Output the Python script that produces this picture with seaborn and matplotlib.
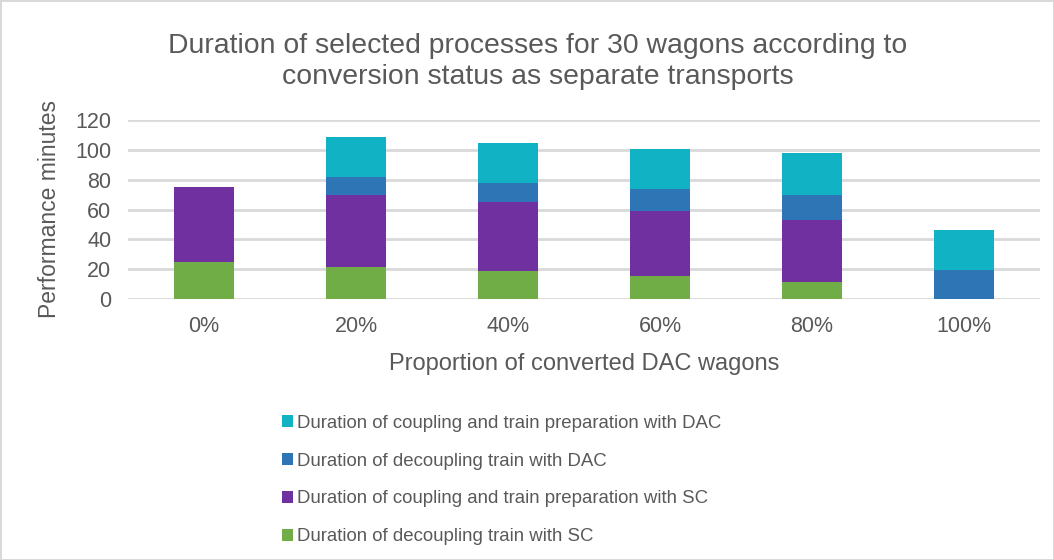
"""
Stacked bar chart: duration of selected processes for 30 wagons by DAC conversion status.
"""
import matplotlib
matplotlib.use("Agg")
import matplotlib.pyplot as plt
import numpy as np
import pandas as pd
import seaborn as sns
from matplotlib.patches import Patch

# ---------------------------------------------------------------------------
CATEGORIES = ["0%", "20%", "40%", "60%", "80%", "100%"]

SC_DECOUPLING  = [24.8, 21.6, 18.5, 15.6, 11.6, 0.0]
SC_COUPLING    = [50.6, 48.4, 46.2, 43.1, 41.5, 0.0]
DAC_DECOUPLING = [0.0, 11.6, 13.2, 15.1, 16.9, 19.4]
DAC_COUPLING   = [0.0, 26.8, 26.7, 27.0, 27.7, 26.8]

SERIES_NAMES = [
    "Duration of decoupling train with SC",
    "Duration of coupling and train preparation with SC",
    "Duration of decoupling train with DAC",
    "Duration of coupling and train preparation with DAC",
]
COLORS = ["#70AD47", "#7030A0", "#2E75B6", "#12B2C5"]
TEXT   = "#595959"
GRID   = "#D9D9D9"

sns.set_theme(style="white")
plt.rcParams["font.family"] = ["Liberation Sans", "DejaVu Sans"]

# cumulative tops, drawn back-to-front so lower segments sit over taller bars
stack = np.array([SC_DECOUPLING, SC_COUPLING, DAC_DECOUPLING, DAC_COUPLING])
tops  = stack.cumsum(axis=0)

fig = plt.figure(figsize=(10.54, 5.6), dpi=100, edgecolor=GRID, linewidth=2)
ax = fig.add_axes([128 / 1054, 1 - 299 / 560, (1040 - 128) / 1054, (299 - 120) / 560])

for i in reversed(range(len(SERIES_NAMES))):
    df = pd.DataFrame({"cat": CATEGORIES, "val": tops[i]})
    sns.barplot(data=df, x="cat", y="val", color=COLORS[i], saturation=1,
                width=0.4, ax=ax, zorder=3, linewidth=0)

ax.set_ylim(0, 120)
ax.set_xlim(-0.5, 5.5)
ax.set_yticks(range(0, 121, 20))
ax.yaxis.grid(True, color=GRID, linewidth=2, zorder=0)
ax.set_axisbelow(True)
for s in ax.spines.values():
    s.set_visible(False)
ax.tick_params(axis="both", length=0, labelsize=15.5, labelcolor=TEXT)
ax.tick_params(axis="y", pad=12)
ax.tick_params(axis="x", pad=12)
ax.set_xlabel("Proportion of converted DAC wagons", fontsize=17, color=TEXT, labelpad=12)
ax.set_ylabel("Performance minutes", fontsize=16.5, color=TEXT, labelpad=10)

fig.text(0.51, 1 - 61 / 560,
         "Duration of selected processes for 30 wagons according to\nconversion status as separate transports",
         ha="center", va="center", fontsize=20.4, color=TEXT, linespacing=1.25)

handles = [Patch(facecolor=COLORS[i], edgecolor="none") for i in reversed(range(4))]
labels = list(reversed(SERIES_NAMES))
fig.legend(handles, labels, loc="upper left", bbox_to_anchor=(265 / 1054, 1 - 398 / 560),
           frameon=False, fontsize=13.4, labelcolor=TEXT, handlelength=0.6,
           handleheight=0.6, handletextpad=0.2, labelspacing=1.12)

fig.savefig("out.png", dpi=100, edgecolor=GRID)
